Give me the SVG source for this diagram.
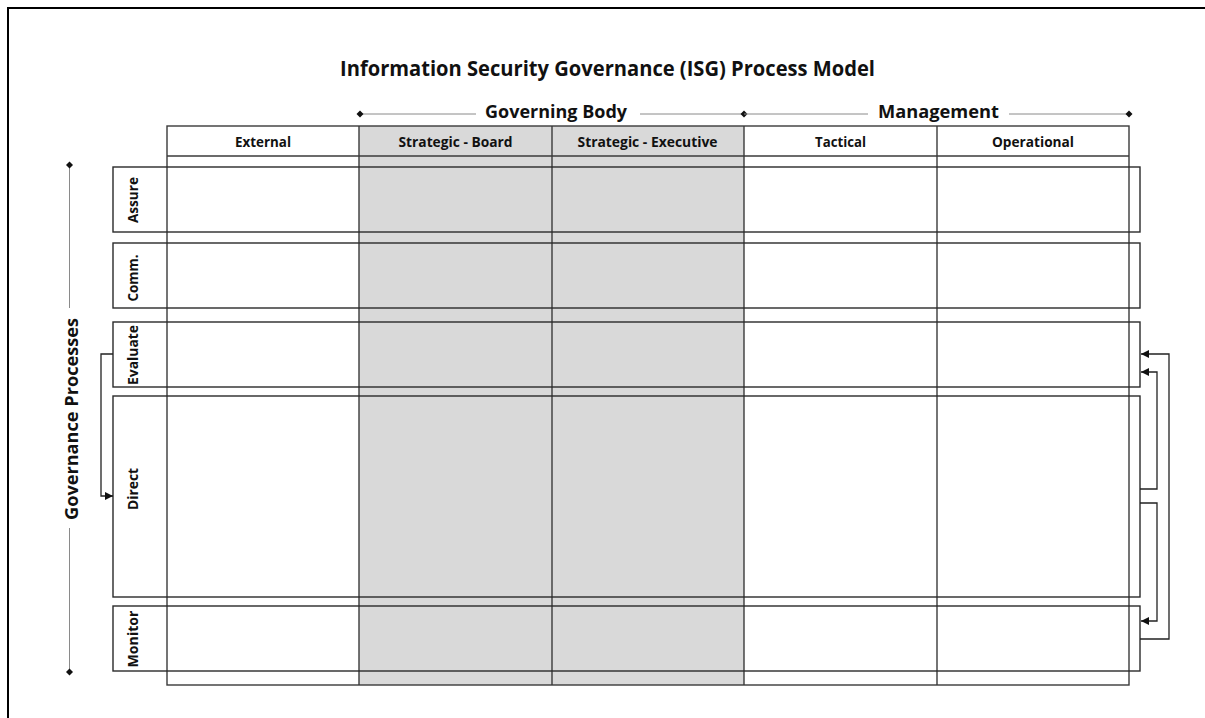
<svg xmlns="http://www.w3.org/2000/svg" width="1205" height="718" viewBox="0 0 1205 718">
<style>
  text { font-family: "Open Sans", "Liberation Sans", sans-serif; font-weight: bold; fill: #111; }
  .title { font-size: 20.5px; }
  .grp { font-size: 18px; }
  .hdr { font-size: 13.5px; }
  .row { font-size: 13.5px; }
  .grid { fill: none; stroke: #3a3a3a; stroke-width: 1.4; }
  .rowbox { fill: none; stroke: #2a2a2a; stroke-width: 1.4; }
  .brk { fill: none; stroke: #8a8a8a; stroke-width: 1; }
  .conn { fill: none; stroke: #222; stroke-width: 1.3; }
</style>
<defs>
  <marker id="dia" viewBox="-4 -4 8 8" markerWidth="8" markerHeight="8" markerUnits="userSpaceOnUse" orient="auto">
    <path d="M-3.5,0 L0,-3.5 L3.5,0 L0,3.5 Z" fill="#111"/>
  </marker>
  <marker id="arr" viewBox="0 0 10 10" refX="10" refY="5" markerWidth="8" markerHeight="8" markerUnits="userSpaceOnUse" orient="auto">
    <path d="M0,0 L10,5 L0,10 Z" fill="#111"/>
  </marker>
</defs>
<rect x="0" y="0" width="1205" height="718" fill="#fff"/>
<path d="M8,718 V8 H1205" fill="none" stroke="#000" stroke-width="2"/>

<text class="title" x="607.5" y="76" text-anchor="middle" textLength="535" lengthAdjust="spacingAndGlyphs">Information Security Governance (ISG) Process Model</text>

<g id="group-headers">
  <line class="brk" x1="360" y1="114" x2="476" y2="114" marker-start="url(#dia)"/>
  <line class="brk" x1="640" y1="114" x2="744" y2="114" marker-end="url(#dia)"/>
  <text class="grp" x="556" y="118" text-anchor="middle" textLength="142" lengthAdjust="spacingAndGlyphs">Governing Body</text>
  <line class="brk" x1="744" y1="114" x2="868" y2="114"/>
  <line class="brk" x1="1009" y1="114" x2="1129" y2="114" marker-end="url(#dia)"/>
  <text class="grp" x="938.5" y="118" text-anchor="middle" textLength="121" lengthAdjust="spacingAndGlyphs">Management</text>
</g>

<g id="table">
  <rect x="359" y="126" width="385" height="559" fill="#d9d9d9"/>
  <rect class="grid" x="167" y="126" width="962" height="559"/>
  <line class="grid" x1="167" y1="156" x2="1129" y2="156"/>
  <line class="grid" x1="359" y1="126" x2="359" y2="685"/>
  <line class="grid" x1="552" y1="126" x2="552" y2="685"/>
  <line class="grid" x1="744" y1="126" x2="744" y2="685"/>
  <line class="grid" x1="937" y1="126" x2="937" y2="685"/>
  <text class="hdr" x="263" y="146.5" text-anchor="middle" textLength="56" lengthAdjust="spacingAndGlyphs">External</text>
  <text class="hdr" x="455.5" y="146.5" text-anchor="middle" textLength="114" lengthAdjust="spacingAndGlyphs">Strategic - Board</text>
  <text class="hdr" x="647.5" y="146.5" text-anchor="middle" textLength="140" lengthAdjust="spacingAndGlyphs">Strategic - Executive</text>
  <text class="hdr" x="840.5" y="146.5" text-anchor="middle" textLength="51" lengthAdjust="spacingAndGlyphs">Tactical</text>
  <text class="hdr" x="1033" y="146.5" text-anchor="middle" textLength="82" lengthAdjust="spacingAndGlyphs">Operational</text>
</g>

<g id="row-assure">
  <rect class="rowbox" x="113" y="167" width="1027" height="65"/>
  <text class="row" transform="translate(137.5,200) rotate(-90)" text-anchor="middle" textLength="46" lengthAdjust="spacingAndGlyphs">Assure</text>
</g>
<g id="row-comm">
  <rect class="rowbox" x="113" y="243" width="1027" height="65"/>
  <text class="row" transform="translate(137.5,278) rotate(-90)" text-anchor="middle" textLength="47" lengthAdjust="spacingAndGlyphs">Comm.</text>
</g>
<g id="row-evaluate">
  <rect class="rowbox" x="113" y="322" width="1027" height="65"/>
  <text class="row" transform="translate(137.5,355) rotate(-90)" text-anchor="middle" textLength="60" lengthAdjust="spacingAndGlyphs">Evaluate</text>
</g>
<g id="row-direct">
  <rect class="rowbox" x="113" y="396" width="1027" height="201"/>
  <text class="row" transform="translate(137.5,489) rotate(-90)" text-anchor="middle" textLength="42" lengthAdjust="spacingAndGlyphs">Direct</text>
</g>
<g id="row-monitor">
  <rect class="rowbox" x="113" y="606" width="1027" height="65"/>
  <text class="row" transform="translate(137.5,639) rotate(-90)" text-anchor="middle" textLength="57" lengthAdjust="spacingAndGlyphs">Monitor</text>
</g>

<g id="governance-processes">
  <line class="brk" x1="69.5" y1="165" x2="69.5" y2="308" marker-start="url(#dia)"/>
  <line class="brk" x1="69.5" y1="528" x2="69.5" y2="672" marker-end="url(#dia)"/>
  <text class="grp" transform="translate(77.5,419) rotate(-90)" text-anchor="middle" textLength="202" lengthAdjust="spacingAndGlyphs">Governance Processes</text>
</g>

<g id="connectors">
  <path class="conn" d="M113,354 H101 V496 H113" marker-end="url(#arr)"/>
  <path class="conn" d="M1140,639 H1169 V354 H1141" marker-end="url(#arr)"/>
  <path class="conn" d="M1140,489 H1157 V372 H1141" marker-end="url(#arr)"/>
  <path class="conn" d="M1140,503 H1157 V621 H1141" marker-end="url(#arr)"/>
</g>
</svg>
